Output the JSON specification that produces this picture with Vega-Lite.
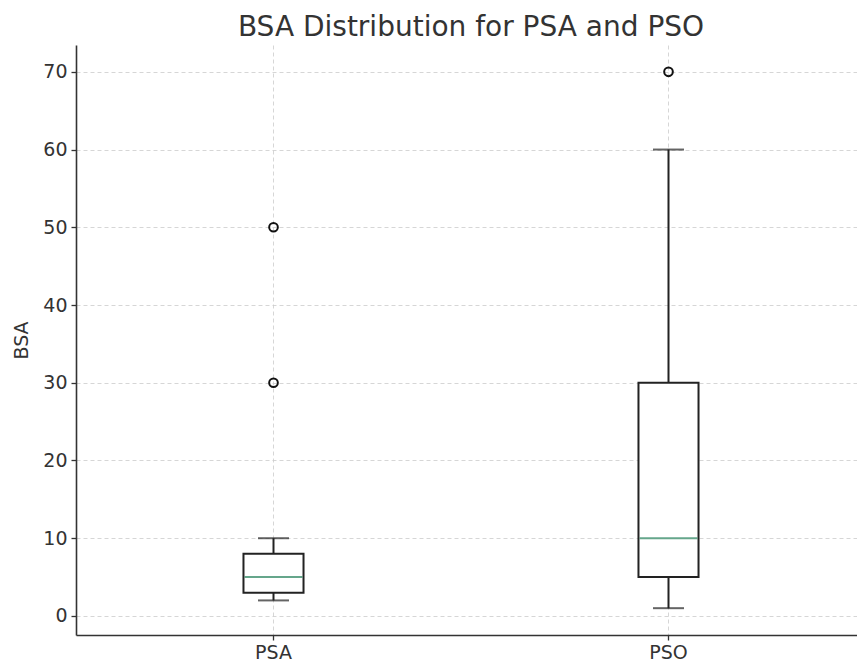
{
  "$schema": "https://vega.github.io/schema/vega-lite/v6.json",
  "width": 790,
  "height": 590,
  "autosize": {"type": "none"},
  "padding": {"left": 76, "top": 45, "right": 0, "bottom": 27},
  "background": "white",
  "title": {"text": "BSA Distribution for PSA and PSO", "font": "DejaVu Sans", "fontSize": 28, "fontWeight": "normal", "color": "#333333", "anchor": "middle", "offset": 3},
  "config": {
    "view": {"stroke": null},
    "axis": {
      "labelFont": "DejaVu Sans", "labelFontSize": 19, "labelColor": "#333333",
      "titleFont": "DejaVu Sans", "titleFontSize": 19, "titleColor": "#333333", "titleFontWeight": "normal",
      "domainColor": "#333333", "domainWidth": 1.6, "tickColor": "#333333", "tickSize": 5, "tickWidth": 1.3,
      "gridColor": "#cccccc", "gridDash": [4, 3], "gridWidth": 0.8
    }
  },
  "datasets": {
    "boxes": [
      {"group": "PSA", "lower": 2, "q1": 3, "median": 5, "q3": 8, "upper": 10},
      {"group": "PSO", "lower": 1, "q1": 5, "median": 10, "q3": 30, "upper": 60}
    ],
    "outliers": [
      {"group": "PSA", "BSA": 30},
      {"group": "PSA", "BSA": 50},
      {"group": "PSO", "BSA": 70}
    ]
  },
  "encoding": {
    "x": {"field": "group", "type": "nominal", "sort": ["PSA", "PSO"],
      "scale": {"type": "band", "paddingInner": 0.848, "paddingOuter": 0.424},
      "axis": {"title": null, "labelAngle": 0, "grid": true, "labelPadding": 3, "bandPosition": 0.5}}
  },
  "layer": [
    {
      "data": {"name": "boxes"},
      "mark": {"type": "rule", "color": "#222222", "strokeWidth": 2},
      "encoding": {
        "y": {"field": "lower", "type": "quantitative", "scale": {"domain": [-2.45, 73.45], "nice": false, "zero": false},
          "axis": {"title": "BSA", "values": [0, 10, 20, 30, 40, 50, 60, 70], "grid": true, "titlePadding": 11, "labelPadding": 4}},
        "y2": {"field": "upper"}
      }
    },
    {
      "data": {"name": "boxes"},
      "mark": {"type": "bar", "fill": "white", "stroke": "#222222", "strokeWidth": 2},
      "encoding": {
        "y": {"field": "q1", "type": "quantitative"},
        "y2": {"field": "q3"}
      }
    },
    {
      "data": {"name": "boxes"},
      "mark": {"type": "tick", "color": "#23805a", "thickness": 2, "size": 58},
      "encoding": {"y": {"field": "median", "type": "quantitative"}}
    },
    {
      "data": {"name": "boxes"},
      "mark": {"type": "tick", "color": "#222222", "thickness": 2, "size": 31},
      "encoding": {"y": {"field": "lower", "type": "quantitative"}}
    },
    {
      "data": {"name": "boxes"},
      "mark": {"type": "tick", "color": "#222222", "thickness": 2, "size": 31},
      "encoding": {"y": {"field": "upper", "type": "quantitative"}}
    },
    {
      "data": {"name": "outliers"},
      "mark": {"type": "point", "shape": "circle", "filled": false, "stroke": "#111111", "strokeWidth": 2, "size": 75, "opacity": 1},
      "encoding": {"y": {"field": "BSA", "type": "quantitative"}}
    }
  ]
}
